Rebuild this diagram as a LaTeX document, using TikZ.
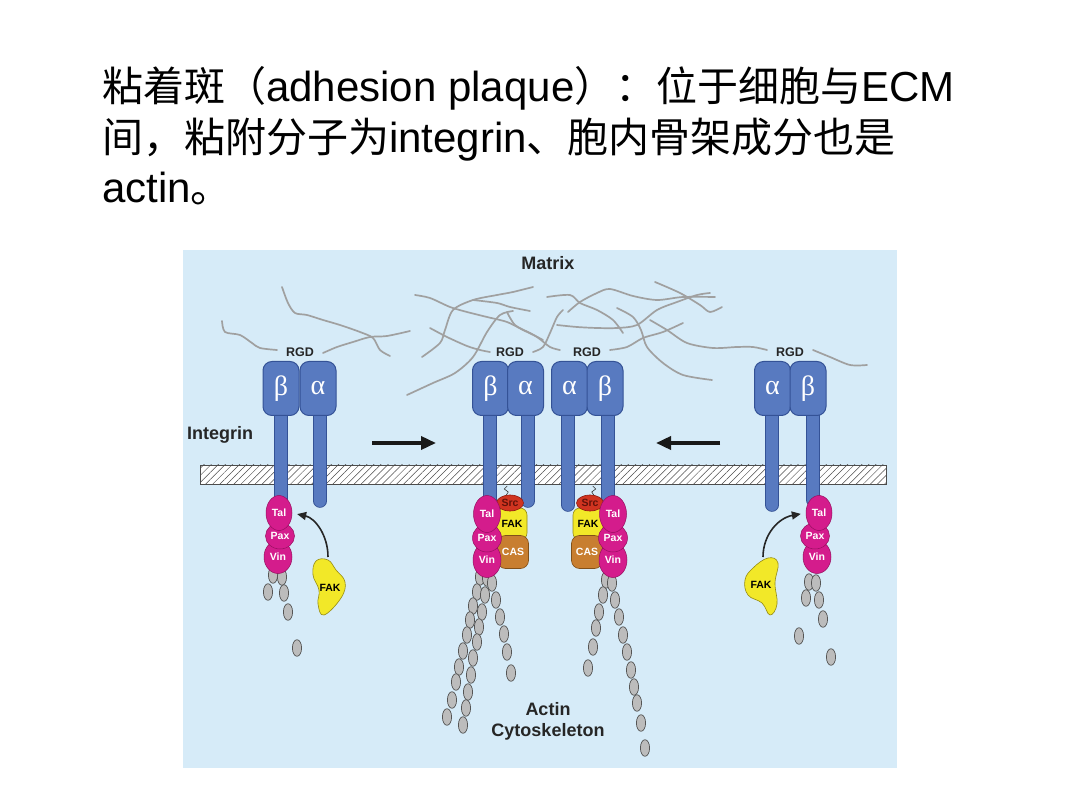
\documentclass[tikz,border=0pt]{standalone}
\usepackage{fontspec}
\setmainfont{Liberation Sans}
\newfontfamily\cjk{Noto Sans CJK SC}
\newfontfamily\greekfont{Liberation Serif}
\usetikzlibrary{shapes.geometric, arrows.meta, patterns.meta}

\newcommand{\zh}[1]{{\cjk\fontsize{41}{50}\selectfont #1}}

\definecolor{panelblue}{RGB}{214,235,248}
\definecolor{intblue}{RGB}{88,122,192}
\definecolor{intedge}{RGB}{52,82,150}
\definecolor{fibergray}{RGB}{160,160,160}
\definecolor{talmag}{RGB}{212,28,140}
\definecolor{magedge}{RGB}{150,15,95}
\definecolor{srcred}{RGB}{208,52,32}
\definecolor{srcedge}{RGB}{140,25,15}
\definecolor{fakyellow}{RGB}{242,232,40}
\definecolor{fakedge}{RGB}{150,140,20}
\definecolor{casbrown}{RGB}{200,126,48}
\definecolor{casedge}{RGB}{130,80,25}
\definecolor{beadgray}{RGB}{188,188,188}
\definecolor{beadedge}{RGB}{85,85,85}

\tikzset{
    head/.style={draw=intedge, fill=intblue, line width=1pt, rounded corners=9pt, minimum width=36pt, minimum height=54pt, inner sep=0pt, text=white, font=\greekfont\fontsize{28}{28}\selectfont},
    stalk/.style={draw=intedge, double=intblue, double distance=12pt, line width=0.8pt, line cap=round},
    fiber/.style={draw=fibergray, line width=1.7pt, line cap=round},
    membrane/.style={draw=black!70, line width=0.8pt, preaction={fill=white}, pattern={Lines[angle=45, distance=5pt, line width=0.5pt]}, pattern color=black!70},
    lump/.style={ellipse, draw=magedge, fill=talmag, line width=0.5pt, inner sep=0pt, text=white, font=\bfseries\fontsize{10.5}{10.5}\selectfont},
    srcblob/.style={ellipse, draw=srcedge, fill=srcred, line width=0.6pt, inner sep=0pt, minimum width=27pt, minimum height=16pt, text=srcedge!70!black, font=\bfseries\fontsize{10.5}{10.5}\selectfont},
    fakblob/.style={rectangle, rounded corners=7pt, draw=fakedge, fill=fakyellow, line width=0.6pt, inner sep=0pt, minimum width=30pt, minimum height=32pt, font=\bfseries\fontsize{10.5}{10.5}\selectfont},
    casblob/.style={rectangle, rounded corners=8pt, draw=casedge, fill=casbrown, line width=0.6pt, inner sep=0pt, minimum width=31pt, minimum height=33pt, text=white, font=\bfseries\fontsize{10.5}{10.5}\selectfont},
    fakfree/.style={draw=fakedge, fill=fakyellow, line width=0.6pt},
    fakname/.style={inner sep=0pt, font=\bfseries\fontsize{10.5}{10.5}\selectfont},
    bead/.style={draw=beadedge, fill=beadgray, line width=0.7pt},
    label/.style={inner sep=0pt, text=black!85, font=\bfseries\fontsize{18}{21}\selectfont},
    rgd/.style={inner sep=0pt, text=black!85, font=\bfseries\fontsize{12.5}{12.5}\selectfont},
    move/.style={-{Triangle[length=15pt, width=13pt]}, line width=3.5pt, draw=black!90},
    recruit/.style={-{Triangle[length=9pt, width=8pt]}, line width=1.6pt, draw=black!85},
    tether/.style={draw=black!80, line width=0.6pt}
}

\begin{document}
\begin{tikzpicture}[x=1pt, y=-1pt]
    \useasboundingbox (0,0) rectangle (1080,810);
    \fill[white] (0,0) rectangle (1080,810);

    % title
    \node[anchor=base west, inner sep=0pt, font=\fontsize{42}{50}\selectfont] (title1) at (102,102) {\zh{粘着斑（}adhesion plaque\zh{）：位于细胞与}ECM};
    \node[anchor=base west, inner sep=0pt, font=\fontsize{42}{50}\selectfont] (title2) at (102,153) {\zh{间，粘附分子为}integrin\zh{、胞内骨架成分也是}};
    \node[anchor=base west, inner sep=0pt, font=\fontsize{42}{50}\selectfont] (title3) at (102,203) {actin\zh{。}};

    % panel
    \fill[panelblue] (183,250) rectangle (897,768);

    % matrix fibers
    \draw[fiber] plot[smooth, tension=0.5] coordinates {(222,321) (225,332) (240,335) (252,343) (260,348) (277,350)};
    \draw[fiber] plot[smooth, tension=0.5] coordinates {(282,287) (288,303) (295,313) (307,315) (323,320) (340,325) (360,332) (373,338) (380,350) (390,356)};
    \draw[fiber] plot[smooth, tension=0.5] coordinates {(323,353) (337,347) (353,342) (370,337) (387,336) (410,331)};
    \draw[fiber] plot[smooth, tension=0.5] coordinates {(415,295) (430,298) (450,307) (467,312) (487,317) (507,322) (523,330) (537,337) (550,347) (560,350)};
    \draw[fiber] plot[smooth, tension=0.5] coordinates {(430,328) (447,337) (467,346) (480,350) (490,352)};
    \draw[fiber] plot[smooth, tension=0.5] coordinates {(407,395) (433,383) (455,373) (473,357) (487,332) (500,315) (513,311)};
    \draw[fiber] plot[smooth, tension=0.5] coordinates {(422,357) (440,343) (445,330) (453,310) (473,300) (497,295) (513,292) (533,287)};
    \draw[fiber] plot[smooth, tension=0.5] coordinates {(473,300) (497,303) (510,307) (530,311)};
    \draw[fiber] plot[smooth, tension=0.5] coordinates {(507,312) (515,325) (530,333) (543,340)};
    \draw[fiber] plot[smooth, tension=0.5] coordinates {(533,352) (543,347) (550,333) (557,317) (563,310)};
    \draw[fiber] plot[smooth, tension=0.5] coordinates {(547,297) (570,295) (580,303) (597,310) (613,320) (623,333)};
    \draw[fiber] plot[smooth, tension=0.5] coordinates {(568,312) (580,302) (597,293) (610,289) (633,296) (657,300) (683,297) (715,297)};
    \draw[fiber] plot[smooth, tension=0.5] coordinates {(557,325) (577,327) (597,328) (617,328) (637,325) (657,310) (677,302) (697,295) (710,293)};
    \draw[fiber] plot[smooth, tension=0.5] coordinates {(610,350) (627,347) (643,338) (663,332) (683,323)};
    \draw[fiber] plot[smooth, tension=0.5] coordinates {(617,308) (633,317) (641,330) (647,347) (663,363) (683,375) (712,380)};
    \draw[fiber] plot[smooth, tension=0.5] coordinates {(655,282) (680,293) (700,305) (710,312) (722,307)};
    \draw[fiber] plot[smooth, tension=0.5] coordinates {(650,320) (667,330) (687,343) (713,348) (737,347) (753,347) (767,350)};
    \draw[fiber] plot[smooth, tension=0.5] coordinates {(813,350) (830,357) (850,365) (867,365)};

    % labels
    \node[label] (matrix) at (548,263) {Matrix};
    \node[label, anchor=west] (integrin) at (187,435) {Integrin};
    \node[rgd] (rgd1) at (300,352) {RGD};
    \node[rgd] (rgd2) at (510,352) {RGD};
    \node[rgd] (rgd3) at (587,352) {RGD};
    \node[rgd] (rgd4) at (790,352) {RGD};

    % membrane
    \draw[membrane] (200,465) rectangle (886,484);

    % integrin stalks
    \foreach \x/\yb in {281/500, 320/501, 490/500, 528/501, 568/505, 608/500, 772/505, 813/500}
        \draw[stalk] (\x,400) -- (\x,\yb);

    % integrin heads
    \node[head] (b1) at (281,388.5) {β};
    \node[head] (a1) at (318,388.5) {α};
    \node[head] (b2) at (490.5,388.5) {β};
    \node[head] (a2) at (525.5,388.5) {α};
    \node[head] (a3) at (569.5,388.5) {α};
    \node[head] (b3) at (605,388.5) {β};
    \node[head] (a4) at (772.5,388.5) {α};
    \node[head] (b4) at (808,388.5) {β};

    % clustering arrows
    \coordinate (moveL-start) at (372,443);
    \coordinate (moveL-end) at (436,443);
    \coordinate (moveR-start) at (720,443);
    \coordinate (moveR-end) at (656,443);
    \draw[move] (moveL-start) -- (moveL-end);
    \draw[move] (moveR-start) -- (moveR-end);

    % actin beads
    \foreach \p in {(273,575), (282,577), (268,592), (284,593), (288,612), (297,648),
                    (480,577), (477,592), (473,606), (470,620), (467,635), (463,651), (459,667), (456,682), (452,700), (447,717),
                    (487,578), (485,595), (482,612), (479,627), (477,642), (473,658), (471,675), (468,692), (466,708), (463,725),
                    (492,583), (496,600), (500,617), (504,634), (507,652), (511,673),
                    (606,580), (603,595), (599,612), (596,628), (593,647), (588,668),
                    (612,583), (615,600), (619,617), (623,635), (627,652), (631,670), (634,687), (637,703), (641,723), (645,748),
                    (809,582), (816,583), (806,598), (819,600), (823,619), (799,636), (831,657)}
        \draw[bead] \p ellipse (4.6pt and 8.3pt);

    % left focal complex, before clustering
    \node[lump, minimum width=28pt, minimum height=33pt] (vinL) at (278,557) {Vin};
    \node[lump, minimum width=29pt, minimum height=26pt] (paxL) at (280,536) {Pax};
    \node[lump, minimum width=26pt, minimum height=35pt] (talL) at (279,513) {Tal};
    \fill[fakfree] plot[smooth cycle, tension=0.7] coordinates {(316,561) (328,560) (336,570) (345,582) (341,598) (324,615) (318,604) (319,590) (313,575)};
    \node[fakname] (fakL) at (330,588) {FAK};
    \coordinate (fakL-top) at (328,557);
    \draw[recruit, shorten >=5pt] (fakL-top) .. controls (328,535) and (315,518) .. (talL.east);

    % middle complexes
    \node[fakblob] (fakM1) at (512,524) {FAK};
    \node[casblob] (casM1) at (513,552) {CAS};
    \node[srcblob] (srcM1) at (510,503) {Src};
    \node[lump, minimum width=28pt, minimum height=35pt] (vinM1) at (487,560) {Vin};
    \node[lump, minimum width=29pt, minimum height=28pt] (paxM1) at (487,538) {Pax};
    \node[lump, minimum width=27pt, minimum height=37pt] (talM1) at (487,514) {Tal};
    \draw[tether] (srcM1.115) -- ++(2,-3) -- ++(-4,-3) -- ++(3,-3);

    \node[fakblob] (fakM2) at (588,524) {FAK};
    \node[casblob] (casM2) at (587,552) {CAS};
    \node[srcblob] (srcM2) at (590,503) {Src};
    \node[lump, minimum width=28pt, minimum height=35pt] (vinM2) at (613,560) {Vin};
    \node[lump, minimum width=29pt, minimum height=28pt] (paxM2) at (613,538) {Pax};
    \node[lump, minimum width=27pt, minimum height=37pt] (talM2) at (613,514) {Tal};
    \draw[tether] (srcM2.65) -- ++(-2,-3) -- ++(4,-3) -- ++(-3,-3);

    % right focal complex, before clustering
    \node[lump, minimum width=28pt, minimum height=33pt] (vinR) at (817,557) {Vin};
    \node[lump, minimum width=29pt, minimum height=26pt] (paxR) at (815,536) {Pax};
    \node[lump, minimum width=26pt, minimum height=35pt] (talR) at (819,513) {Tal};
    \fill[fakfree] plot[smooth cycle, tension=0.7] coordinates {(768,558) (778,563) (775,583) (777,604) (770,615) (762,603) (748,595) (745,580) (753,568)};
    \node[fakname] (fakR) at (761,585) {FAK};
    \coordinate (fakR-top) at (763,557);
    \draw[recruit, shorten >=5pt] (fakR-top) .. controls (763,535) and (778,518) .. (talR.west);

    \node[label, align=center] (actin) at (548,721) {Actin\\Cytoskeleton};
\end{tikzpicture}
\end{document}
